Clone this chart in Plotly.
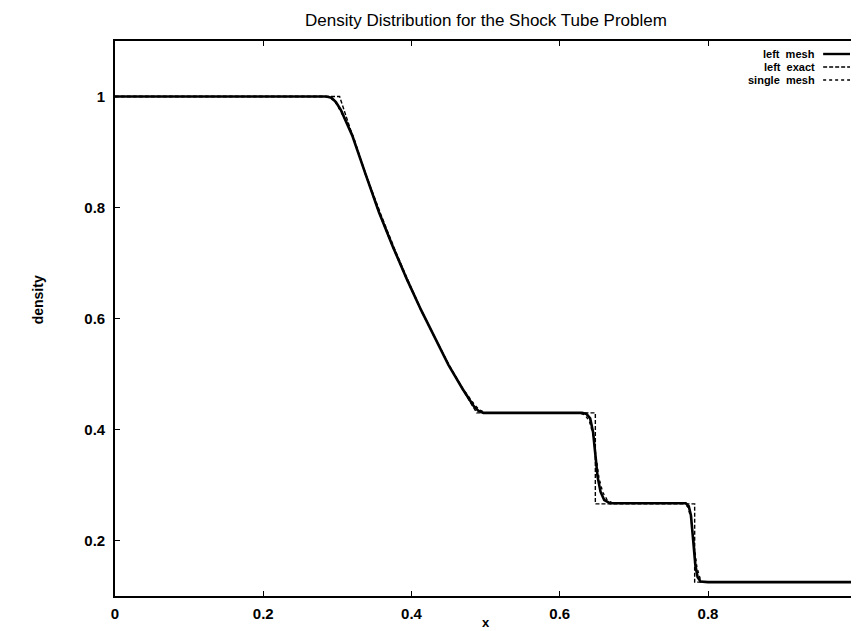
import plotly.graph_objects as go

# ---- data ----
exact_x = [0.0, 0.303, 0.3215, 0.340, 0.3585, 0.377, 0.3955, 0.414, 0.4325, 0.451, 0.4695, 0.488,
           0.648, 0.648, 0.782, 0.782, 1.0]
exact_rho = [1.0, 1.0, 0.925, 0.854, 0.788, 0.726, 0.668, 0.613, 0.563, 0.515, 0.471, 0.430,
             0.430, 0.266, 0.266, 0.125, 0.125]

left_x = [0.0, 0.285, 0.292, 0.298, 0.305, 0.312, 0.320, 0.338, 0.356, 0.375, 0.394, 0.413,
          0.432, 0.450, 0.469, 0.478, 0.484, 0.490, 0.497, 0.630, 0.636, 0.641, 0.645, 0.648,
          0.651, 0.655, 0.660, 0.668, 0.770, 0.774, 0.777, 0.780, 0.783, 0.786, 0.790, 0.800, 1.0]
left_rho = [1.0, 1.0, 0.998, 0.990, 0.975, 0.955, 0.930, 0.860, 0.792, 0.729, 0.670, 0.615,
            0.564, 0.516, 0.473, 0.454, 0.442, 0.434, 0.430, 0.430, 0.428, 0.420, 0.395, 0.355,
            0.315, 0.288, 0.273, 0.267, 0.267, 0.262, 0.245, 0.200, 0.155, 0.134, 0.126, 0.125, 0.125]

single_x = [0.0, 0.283, 0.291, 0.298, 0.305, 0.313, 0.322, 0.338, 0.356, 0.375, 0.394, 0.413,
            0.432, 0.450, 0.469, 0.479, 0.486, 0.492, 0.500, 0.627, 0.634, 0.640, 0.645, 0.649,
            0.653, 0.658, 0.664, 0.672, 0.768, 0.773, 0.777, 0.781, 0.785, 0.789, 0.793, 0.802, 1.0]
single_rho = [1.0, 1.0, 0.997, 0.988, 0.972, 0.952, 0.926, 0.859, 0.791, 0.728, 0.669, 0.614,
              0.564, 0.517, 0.474, 0.455, 0.443, 0.435, 0.430, 0.430, 0.426, 0.415, 0.390, 0.350,
              0.312, 0.287, 0.273, 0.267, 0.267, 0.260, 0.240, 0.195, 0.152, 0.133, 0.126, 0.125, 0.125]

x_ticks = [0, 0.2, 0.4, 0.6, 0.8, 1]
x_tick_text = ["0", "0.2", "0.4", "0.6", "0.8", "1"]
y_ticks = [0.2, 0.4, 0.6, 0.8, 1]
y_tick_text = ["0.2", "0.4", "0.6", "0.8", "1"]

legend_labels = ["left  mesh", "left  exact", "single  mesh"]
legend_dashes = ["solid", "4px,2px", "dot"]
legend_widths = [2.4, 1.4, 1.4]

title_text = "Density Distribution for the Shock Tube Problem"

FONT = "Liberation Sans, Arial, Helvetica, sans-serif"

fig = go.Figure()
fig.add_trace(go.Scatter(x=exact_x, y=exact_rho, mode="lines", name="left exact",
                         line=dict(color="black", width=1.4, dash="4px,2px")))
fig.add_trace(go.Scatter(x=single_x, y=single_rho, mode="lines", name="single mesh",
                         line=dict(color="black", width=1.4, dash="dot")))
fig.add_trace(go.Scatter(x=left_x, y=left_rho, mode="lines", name="left mesh",
                         line=dict(color="black", width=2.6)))

W, H = 859, 631
L, R, T, B = 107, 7, 33, 43
pw, ph = W - L - R, H - T - B


def px_to_paper_x(px):
    return (px - L) / pw


def px_to_paper_y(py):
    return (H - B - py) / ph


annotations = [
    dict(text=title_text, x=0.5, y=px_to_paper_y(13), xref="paper", yref="paper",
         showarrow=False, xanchor="center", yanchor="middle",
         font=dict(family=FONT, size=17, color="black")),
    dict(text="<b>x</b>", x=0.5, y=px_to_paper_y(614), xref="paper", yref="paper",
         showarrow=False, xanchor="center", yanchor="middle",
         font=dict(family=FONT, size=13, color="black")),
    dict(text="<b>density</b>", x=px_to_paper_x(30), y=px_to_paper_y(292), xref="paper", yref="paper",
         showarrow=False, xanchor="center", yanchor="middle", textangle=-90,
         font=dict(family=FONT, size=14, color="black")),
]
shapes = []
row_y = [46, 59, 72]
for lab, dsh, wd, ry in zip(legend_labels, legend_dashes, legend_widths, row_y):
    annotations.append(dict(text="<b>" + lab.replace(" ", "&nbsp;") + "</b>", x=px_to_paper_x(812), y=px_to_paper_y(ry),
                            xref="paper", yref="paper", showarrow=False,
                            xanchor="right", yanchor="middle",
                            font=dict(family=FONT, size=11, color="black")))
    shapes.append(dict(type="line", xref="paper", yref="paper",
                       x0=px_to_paper_x(818), x1=px_to_paper_x(845),
                       y0=px_to_paper_y(ry), y1=px_to_paper_y(ry),
                       line=dict(color="black", width=wd, dash=dsh)))

axis_common = dict(showgrid=False, zeroline=False, showline=True, linecolor="black", linewidth=1.6,
                   mirror="ticks", ticks="inside", ticklen=5, tickwidth=1.3, tickcolor="black",
                   tickfont=dict(family=FONT, size=15, color="black"))

fig.update_layout(
    width=W, height=H, autosize=False,
    margin=dict(l=L, r=R, t=T, b=B),
    paper_bgcolor="white", plot_bgcolor="white",
    showlegend=False,
    xaxis=dict(range=[0, 1.001], tickvals=x_ticks, ticktext=["<b>%s</b>" % t for t in x_tick_text],
               ticklabelstandoff=3, ticklabeloverflow="allow", **axis_common),
    yaxis=dict(range=[0.1, 1.1], tickvals=y_ticks, ticktext=["<b>%s</b>" % t for t in y_tick_text],
               ticklabelstandoff=5, **axis_common),
    annotations=annotations,
    shapes=shapes,
)

fig.write_html("out.html")
